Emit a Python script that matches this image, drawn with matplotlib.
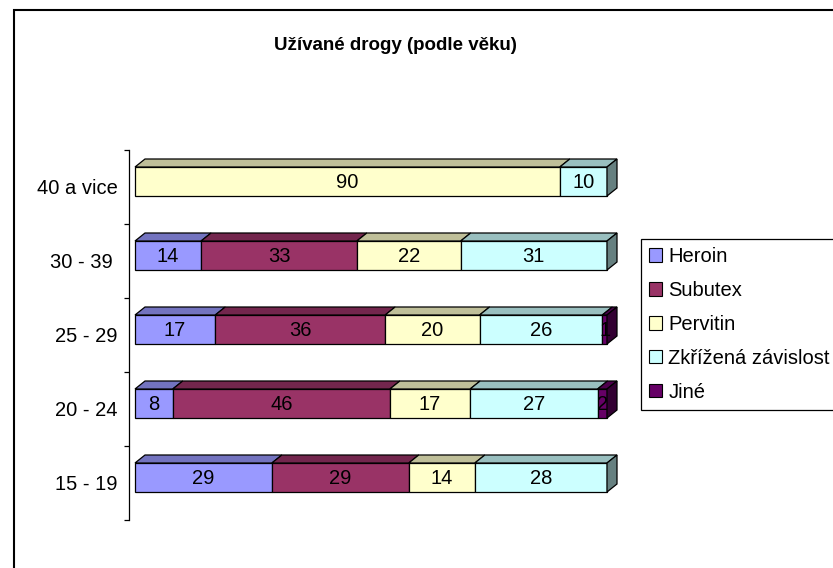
import matplotlib
matplotlib.use("Agg")
import matplotlib.pyplot as plt
from matplotlib.patches import Polygon, Rectangle
import numpy as np

plt.rcParams["font.family"] = ["Liberation Sans", "DejaVu Sans"]

# data, bottom row first
categories = ["15 - 19", "20 - 24", "25 - 29", "30 - 39 ", "40 a vice"]
series_names = ["Heroin", "Subutex", "Pervitin", "Zkřížená závislost", "Jiné"]
heroin = [29, 8, 17, 14, 0]
subutex = [29, 46, 36, 33, 0]
pervitin = [14, 17, 20, 22, 90]
zkrizena = [28, 27, 26, 31, 10]
jine = [0, 2, 1, 0, 0]

front_colors = ["#9999ff", "#993366", "#ffffcc", "#ccffff", "#660066"]
top_colors = ["#7373bf", "#73264d", "#bfbf99", "#99bfbf", "#4d004d"]
side_colors = ["#5c5c99", "#5c1f3d", "#99997a", "#668080", "#330033"]

W, H = 833, 568
fig = plt.figure(figsize=(W / 100, H / 100), dpi=100)
ax = fig.add_axes([129 / W, 48 / H, (625 - 129) / W, 370 / H])

xpx = 4.72  # pixels per percent
ax.set_xlim(-6 / xpx, (625 - 135) / xpx)
ax.set_ylim(-0.5, 4.5)

dx = 10 / xpx  # 3d depth
dy = 8 / 74
off = 5.5 / 74
bh = 29 / 74

y = np.arange(len(categories)) + off
left = np.zeros(len(categories))
last_seg = [None] * len(categories)

series = [heroin, subutex, pervitin, zkrizena, jine]
for k, vals in enumerate(series):
    vals = np.array(vals, float)
    idx = np.nonzero(vals)[0]
    ax.barh(y[idx], vals[idx], height=bh, left=left[idx], color=front_colors[k],
            edgecolor="black", linewidth=0.9, zorder=2)
    for i in idx:
        x0 = left[i]
        x1 = left[i] + vals[i]
        yt = y[i] + bh / 2
        ax.add_patch(Polygon([(x0, yt), (x0 + dx, yt + dy), (x1 + dx, yt + dy), (x1, yt)],
                             closed=True, fc=top_colors[k], ec="black", lw=0.9, zorder=2))
        ax.text((x0 + x1) / 2, y[i] - 0.01, "%d" % vals[i], ha="center", va="center",
                fontsize=14.5, zorder=6)
        last_seg[i] = (k, x1)
    left += vals

# right side of each bar
for i, (k, x1) in enumerate(last_seg):
    yb = y[i] - bh / 2
    yt = y[i] + bh / 2
    ax.add_patch(Polygon([(x1, yb), (x1 + dx, yb + dy), (x1 + dx, yt + dy), (x1, yt)],
                         closed=True, fc=side_colors[k], ec="black", lw=0.9, zorder=3))

for s in ["top", "right", "bottom"]:
    ax.spines[s].set_visible(False)
ax.spines["left"].set_linewidth(0.9)
ax.set_xticks([])
ax.set_yticks(np.arange(len(categories)))
ax.set_yticklabels(categories, fontsize=14.5)
ax.set_yticks(np.arange(-0.5, len(categories)), minor=True)
ax.tick_params(axis="y", which="major", length=0, pad=8)
ax.tick_params(axis="y", which="minor", length=3.6, width=0.9, direction="out")

fig.text(395 / W, 1 - 45 / H, "Užívané drogy (podle věku)", ha="center", va="center",
         fontsize=13.5, fontweight="bold")

handles = [Rectangle((0, 0), 1, 1, fc=c, ec="black", lw=0.8) for c in front_colors]
leg = fig.legend(handles, series_names, loc="upper left",
                 bbox_to_anchor=(641 / W, 1 - 239 / H), bbox_transform=fig.transFigure,
                 fontsize=14.5, frameon=True, fancybox=False, edgecolor="black",
                 framealpha=1, borderpad=0.4, handlelength=0.65, handleheight=0.65,
                 handletextpad=0.3, labelspacing=0.74, borderaxespad=0)
leg.get_frame().set_linewidth(0.9)

# chart area border (cut at right and bottom)
fig.add_artist(Rectangle((14 / W, -0.1), 1.0, 1.1 - 10 / H, transform=fig.transFigure,
                         fill=False, ec="black", lw=1.5))

fig.savefig("out.png", dpi=100)
